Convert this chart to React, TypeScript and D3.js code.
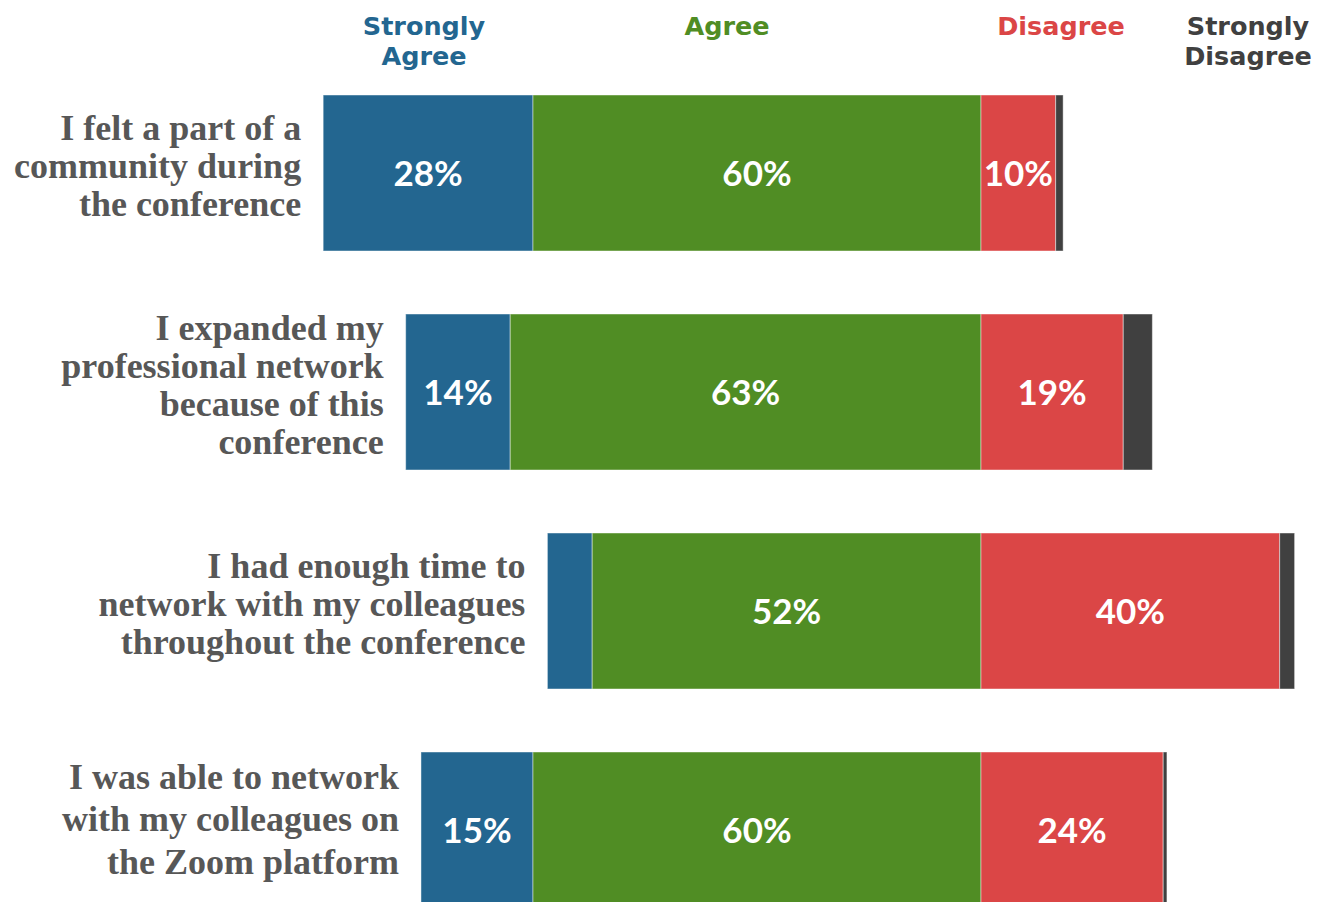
import React from "react";
import * as d3 from "d3";

const categories = [
  ["I felt a part of a", "community during", "the conference"],
  ["I expanded my", "professional network", "because of this", "conference"],
  ["I had enough time to", "network with my colleagues", "throughout the conference"],
  ["I was able to network", "with my colleagues on", "the Zoom platform"],
];
const stronglyAgree = [28.1, 14, 6, 15];
const agree = [60, 63.05, 52.07, 60];
const disagree = [10, 19.05, 40, 24.4];
const stronglyDisagree = [1, 3.9, 2, 0.5];
const seriesNames = ["Strongly Agree", "Agree", "Disagree", "Strongly Disagree"];
const seriesColors = ["#236690", "#508D24", "#DB4646", "#404040"];

const W = 1323;
const H = 902;
const CENTER = 981;
const PX_PER_PCT = 7.467;

export default function App() {
  const x = d3
    .scaleLinear()
    .domain([-100, 100])
    .range([CENTER - 100 * PX_PER_PCT, CENTER + 100 * PX_PER_PCT]);
  const ids = categories.map((_, i) => String(i));
  const y = d3
    .scaleBand<string>()
    .domain(ids)
    .range([95, 95 + 219 * 4 - 63])
    .paddingInner(63 / 219)
    .paddingOuter(0);

  const rows = categories.map((lines, i) => {
    const sa = stronglyAgree[i];
    const a = agree[i];
    const d = disagree[i];
    const sd = stronglyDisagree[i];
    const segs = [
      { s: 0, v: sa, x0: -(sa + a), x1: -a },
      { s: 1, v: a, x0: -a, x1: 0 },
      { s: 2, v: d, x0: 0, x1: d },
      { s: 3, v: sd, x0: d, x1: d + sd },
    ];
    return { lines, segs, y0: y(String(i))!, i };
  });

  const bw = y.bandwidth();
  const legendPos = [
    { x: 424, lines: ["Strongly", "Agree"] },
    { x: 727, lines: ["Agree"] },
    { x: 1061, lines: ["Disagree"] },
    { x: 1248, lines: ["Strongly", "Disagree"] },
  ];

  return (
    <svg
      width={W}
      height={H}
      style={{ position: "absolute", left: 0, top: 0, background: "#fff" }}
    >
      {legendPos.map((l, si) =>
        l.lines.map((t, k) => (
          <text
            key={si + "-" + k}
            x={l.x}
            y={35 + k * 29.5}
            textAnchor="middle"
            fill={seriesColors[si]}
            fontFamily="'DejaVu Sans', sans-serif"
            fontWeight="bold"
            fontSize={25.5}
          >
            {t}
          </text>
        ))
      )}
      {rows.map((r) => {
        const cy = r.y0 + bw / 2;
        const left = x(r.segs[0].x0);
        const lh = r.i === 3 ? 42.5 : 37.8;
        const off = r.i === 3 ? 1 : 5;
        const n = r.lines.length;
        return (
          <g key={r.i}>
            {r.segs.map((sg) => (
              <rect
                key={sg.s}
                x={x(sg.x0)}
                y={r.y0}
                width={x(sg.x1) - x(sg.x0)}
                height={bw}
                fill={seriesColors[sg.s]}
                stroke="rgba(255,255,255,0.45)"
                strokeWidth={1}
              />
            ))}
            {r.segs
              .filter((sg) => sg.v >= 8 && sg.s < 3)
              .map((sg) => (
                <text
                  key={"l" + sg.s}
                  x={(x(sg.x0) + x(sg.x1)) / 2}
                  y={cy + 13}
                  textAnchor="middle"
                  fill="#fff"
                  fontFamily="Lato, 'Open Sans', sans-serif"
                  fontWeight="bold"
                  fontSize={35}
                >
                  {d3.format(".0f")(sg.v) + "%"}
                </text>
              ))}
            <text
              textAnchor="end"
              fill="#575757"
              fontFamily="'Liberation Serif', 'Times New Roman', serif"
              fontWeight="bold"
              fontSize={36}
            >
              {r.lines.map((t, k) => (
                <tspan
                  key={k}
                  x={left - 22}
                  y={cy + off + (k - (n - 1) / 2) * lh}
                >
                  {t}
                </tspan>
              ))}
            </text>
          </g>
        );
      })}
    </svg>
  );
}
